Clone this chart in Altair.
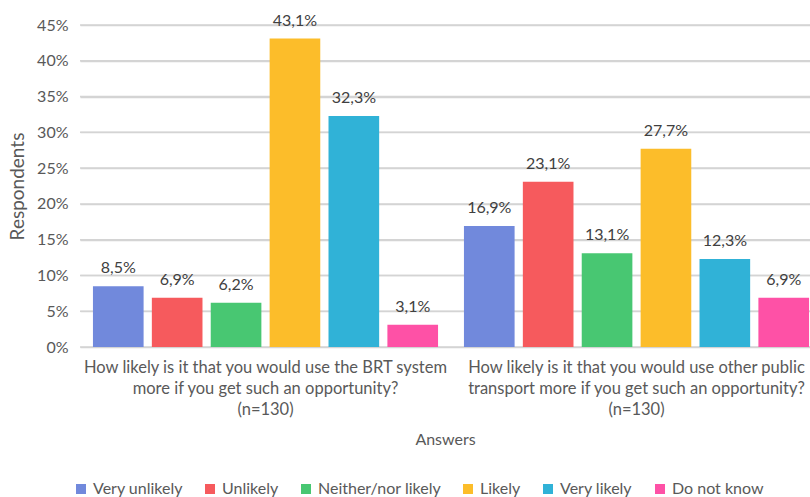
import altair as alt
import pandas as pd

questions = [
    "How likely is it that you would use the BRT system|more if you get such an opportunity?|(n=130)",
    "How likely is it that you would use other public|transport more if you get such an opportunity?|(n=130)",
]
answers = ["Very unlikely", "Unlikely", "Neither/nor likely", "Likely", "Very likely", "Do not know"]
brt_values = [8.5, 6.9, 6.2, 43.1, 32.3, 3.1]
other_values = [16.9, 23.1, 13.1, 27.7, 12.3, 6.9]
y_ticks = [0, 5, 10, 15, 20, 25, 30, 35, 40, 45]
colors = ["#7189dc", "#f65a5d", "#48c772", "#fcbd2a", "#30b2d7", "#fe51a6"]

rows = []
for q, vals in zip(questions, [brt_values, other_values]):
    for a, v in zip(answers, vals):
        rows.append({"question": q, "answer": a, "value": v,
                     "label": f"{v:.1f}".replace(".", ",") + "%"})
df = pd.DataFrame(rows)
grid_df = pd.DataFrame({"value": y_ticks})

FONT = "Lato"
FS = 16

x_enc = alt.X("question:N", sort=questions,
              scale=alt.Scale(paddingInner=0, paddingOuter=0, range=[0, 742]),
              axis=alt.Axis(title="Answers", labelExpr="split(datum.label, '|')",
                            labelAngle=0, labelFontSize=16.5, labelColor="#595959",
                            labelLineHeight=21, labelPadding=12, labelFont=FONT,
                            labelLimit=0, labelOverlap=False, labelBound=False,
                            titleFont=FONT, titleFontSize=FS, titleFontWeight="normal",
                            titleColor="#595959", titlePadding=14, titleX=365,
                            ticks=False, domain=False, grid=False))
xoff_enc = alt.XOffset("answer:N", sort=answers,
                       scale=alt.Scale(paddingInner=0.14, paddingOuter=0.22))
y_enc = alt.Y("value:Q", scale=alt.Scale(domain=[0, 45], nice=False),
              axis=alt.Axis(title="Respondents", values=y_ticks,
                            labelExpr="datum.value + '%'", labelFontSize=FS,
                            labelColor="#595959", labelFont=FONT, labelPadding=12,
                            labelOverlap=False,
                            titleFont=FONT, titleFontSize=19, titleFontWeight="normal",
                            titleColor="#595959", titlePadding=9,
                            ticks=False, domain=False, grid=True,
                            gridColor="#d4d4d4", gridWidth=1.5))

grid = alt.Chart(grid_df).mark_rule(color="#d4d4d4", strokeWidth=1.5).encode(
    y=y_enc, x=alt.value(0), x2=alt.value(742))

bars = alt.Chart(df).mark_bar().encode(
    x=x_enc, xOffset=xoff_enc, y=y_enc,
    color=alt.Color("answer:N", sort=answers,
                    scale=alt.Scale(domain=answers, range=colors),
                    legend=alt.Legend(title=None, orient="none", direction="horizontal",
                                      legendX=-7, legendY=456, symbolType="square",
                                      symbolSize=100, symbolStrokeWidth=0,
                                      labelFontSize=FS, labelColor="#595959",
                                      labelFont=FONT, columnPadding=19, labelOffset=4)),
)

text = alt.Chart(df).mark_text(baseline="alphabetic", dy=-13, fontSize=FS, font=FONT,
                               color="#404040").encode(
    x=x_enc, xOffset=xoff_enc, y=y_enc, text="label:N")

chart = alt.layer(grid, bars, text).properties(
    width=730, height=322,
    autosize=alt.AutoSizeParams(type="none"),
    padding={"left": 80, "top": 25, "right": 0, "bottom": 150},
    background="white",
).configure_view(stroke=None)

chart.save("out.html", embed_options={"renderer": "svg", "actions": False})
